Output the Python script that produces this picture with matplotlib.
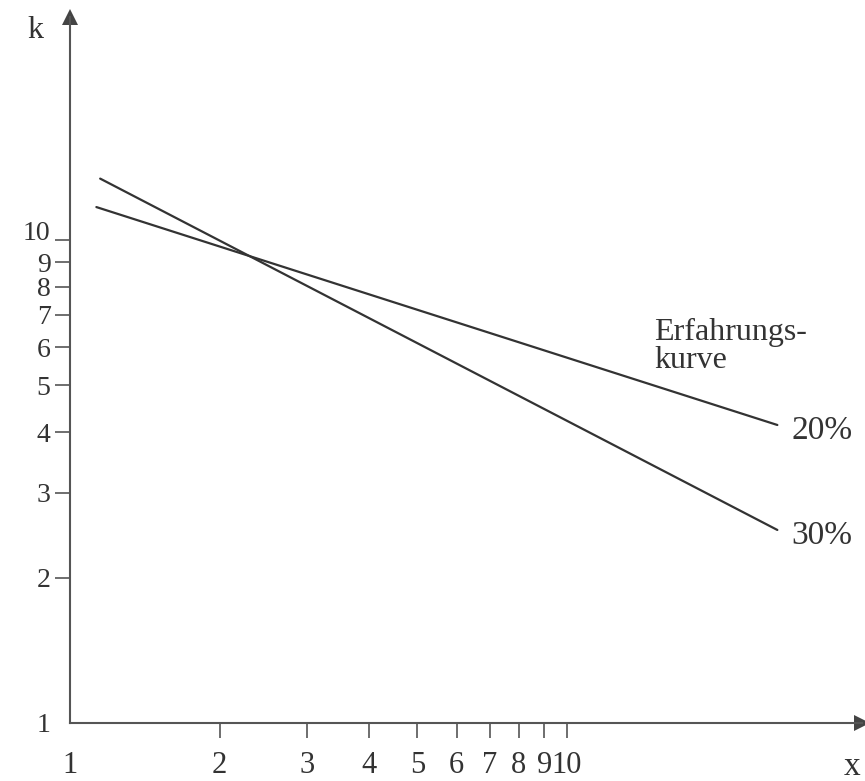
import matplotlib
matplotlib.use("Agg")
import matplotlib.pyplot as plt
from matplotlib.ticker import FixedLocator, FixedFormatter, NullLocator

plt.rcParams['font.family'] = ['Liberation Serif', 'DejaVu Serif']

# Erfahrungskurven (log-log): Stückkosten k über kumulierter Menge x
x20 = [1.13, 26.5]
k20 = [11.7, 4.14]
x30 = [1.15, 26.5]
k30 = [13.4, 2.51]

x_ticks = [1, 2, 3, 4, 5, 6, 7, 8, 9, 10]
y_ticks = [1, 2, 3, 4, 5, 6, 7, 8, 9, 10]
x_labels = [str(v) for v in x_ticks]
y_labels = [str(v) for v in y_ticks]

ink = '#333333'
W, H = 865, 781

fig = plt.figure(figsize=(W / 100, H / 100), dpi=100)
# axes origin at pixel (70, 723), x arrow tip at 862, y arrow tip at 17
ax = fig.add_axes([70 / W, (H - 723) / H, (862 - 70) / W, (723 - 17) / H])
ax.set_xscale('log')
ax.set_yscale('log')
ax.set_xlim(1, 10 ** ((862 - 70) / 497))
ax.set_ylim(1, 10 ** ((723 - 17) / 483))

ax.plot(x20, k20, color=ink, lw=1.6, solid_capstyle='round')
ax.plot(x30, k30, color=ink, lw=1.6, solid_capstyle='round')

for s in ['top', 'right']:
    ax.spines[s].set_visible(False)
for s in ['left', 'bottom']:
    ax.spines[s].set_color('#555555')
    ax.spines[s].set_linewidth(1.5)

# arrow heads
ax.plot(1, 0, marker='>', ms=11, color='#444444', transform=ax.transAxes,
        clip_on=False, markeredgewidth=0)
ax.plot(0, 1, marker='^', ms=11, color='#444444', transform=ax.transAxes,
        clip_on=False, markeredgewidth=0)

ax.xaxis.set_major_locator(FixedLocator(x_ticks))
ax.xaxis.set_major_formatter(FixedFormatter(x_labels))
ax.yaxis.set_major_locator(FixedLocator(y_ticks))
ax.yaxis.set_major_formatter(FixedFormatter(y_labels))
ax.xaxis.set_minor_locator(NullLocator())
ax.yaxis.set_minor_locator(NullLocator())
ax.tick_params(axis='both', direction='out', length=11, width=1.2,
               color='#555555', labelcolor=ink)
ax.tick_params(axis='x', pad=9, labelsize=22)
ax.tick_params(axis='y', pad=3, labelsize=20)

fig.canvas.draw()
ax.xaxis.get_major_ticks()[0].tick1line.set_visible(False)
ax.yaxis.get_major_ticks()[0].tick1line.set_visible(False)
# "10" sits on its tick, above the crowded 9
ax.get_yticklabels()[-1].set_verticalalignment('baseline')

ax.annotate('20%', (x20[-1], k20[-1]), xytext=(10, -4), textcoords='offset points',
            ha='left', va='center', fontsize=24, color=ink)
ax.annotate('30%', (x30[-1], k30[-1]), xytext=(10, -4), textcoords='offset points',
            ha='left', va='center', fontsize=24, color=ink)
ax.text(15.0, 6.9, 'Erfahrungs-\nkurve', ha='left', va='top', fontsize=23,
        color=ink, linespacing=0.95)

fig.text(35 / W, 1 - 30 / H, 'k', ha='center', va='center', fontsize=23, color=ink)
fig.text(852 / W, 1 - 767 / H, 'x', ha='center', va='center', fontsize=24, color=ink)

fig.savefig('out.png', dpi=100)
